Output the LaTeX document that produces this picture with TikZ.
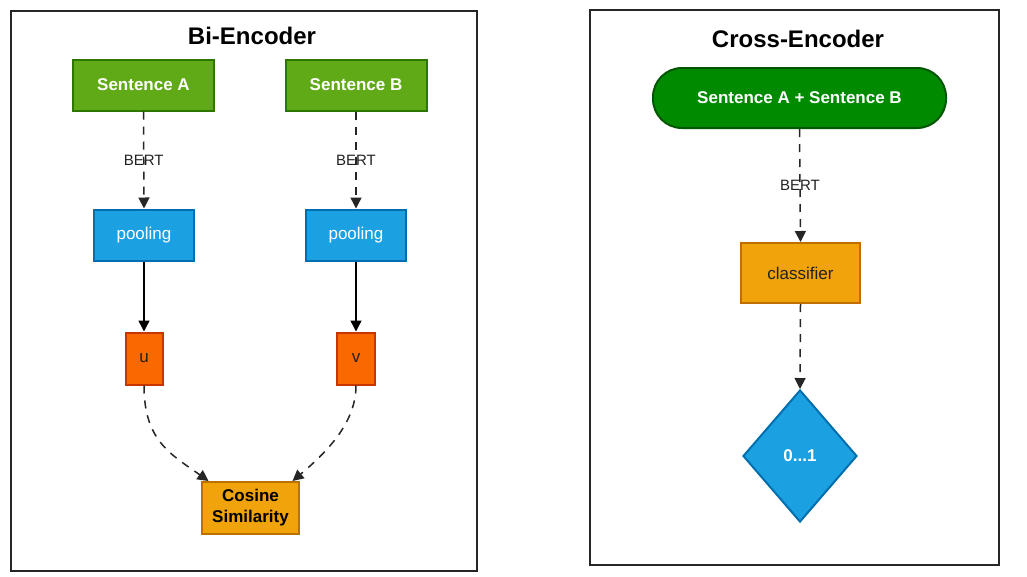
\documentclass[tikz,border=0pt]{standalone}
\usepackage{fontspec}
\setmainfont{Liberation Sans}
\usetikzlibrary{shapes.geometric,arrows.meta}
\definecolor{gfill}{HTML}{60A917}\definecolor{gline}{HTML}{2D7600}
\definecolor{bfill}{HTML}{1BA1E2}\definecolor{bline}{HTML}{006EAF}
\definecolor{ofill}{HTML}{FA6800}\definecolor{oline}{HTML}{C73500}
\definecolor{yfill}{HTML}{F0A30A}\definecolor{yline}{HTML}{BD7000}
\definecolor{dgfill}{HTML}{008A00}\definecolor{dgline}{HTML}{005700}
\definecolor{txt}{HTML}{222222}
\tikzset{
  frame/.style={draw=black!85,line width=2.2pt,rectangle,inner sep=0pt},
  title/.style={font=\fontsize{24}{28}\selectfont\bfseries,text=black,anchor=base},
  box/.style={rectangle,line width=2pt,inner sep=0pt,font=\fontsize{17}{21}\selectfont},
  greenbox/.style={box,fill=gfill,draw=gline,text=white,font=\fontsize{17}{21}\selectfont\bfseries},
  bluebox/.style={box,fill=bfill,draw=bline,text=white},
  orangebox/.style={box,fill=ofill,draw=oline,text=txt},
  yellowbox/.style={box,fill=yfill,draw=yline,text=txt},
  lbl/.style={font=\fontsize{15}{18}\selectfont,text=txt,inner sep=1pt},
  dashedarrow/.style={draw=black!85,line width=1.5pt,dash pattern=on 8pt off 7pt,-{Triangle[length=11pt,width=11pt]}},
  solidarrow/.style={draw=black,line width=1.5pt,-{Triangle[length=11pt,width=11pt]}}
}
\begin{document}
\begin{tikzpicture}[x=1pt,y=-1pt]
\useasboundingbox (0,0) rectangle (1027,576);
\fill[white] (0,0) rectangle (1027,576);
% frames
\node[frame,minimum width=466pt,minimum height=560pt] (frameL) at (244,291) {};
\node[frame,minimum width=409pt,minimum height=555pt] (frameR) at (794.5,287.5) {};
\node[title] (titleL) at (252,44) {Bi-Encoder};
\node[title] (titleR) at (798,47) {Cross-Encoder};
% Bi-encoder
\node[greenbox,minimum width=141pt,minimum height=51pt] (sa) at (143.5,85) {Sentence A};
\node[greenbox,minimum width=141pt,minimum height=51pt] (sb) at (356,85) {Sentence B};
\node[bluebox,minimum width=100pt,minimum height=51pt] (pa) at (144,235) {pooling};
\node[bluebox,minimum width=100pt,minimum height=51pt] (pb) at (356,235) {pooling};
\node[orangebox,minimum width=37pt,minimum height=52pt] (u) at (144,358.5) {u};
\node[orangebox,minimum width=38pt,minimum height=52pt] (v) at (356,358.5) {v};
\node[yellowbox,minimum width=97pt,minimum height=52pt,align=center,font=\fontsize{17}{21}\selectfont\bfseries,text=black] (cs) at (250.5,508) {Cosine\\Similarity};
\draw[dashedarrow] (sa.south) -- node[lbl] {BERT} (pa.north);
\draw[dashedarrow] (sb.south) -- node[lbl] {BERT} (pb.north);
\draw[solidarrow] (pa.south) -- (u.north);
\draw[solidarrow] (pb.south) -- (v.north);
\coordinate (csl) at ([xshift=-42pt]cs.north);
\coordinate (csr) at ([xshift=42pt]cs.north);
\draw[dashedarrow] (u.south) .. controls ([yshift=-55pt]u.south) and ([xshift=-38pt,yshift=27pt]csl) .. (csl);
\draw[dashedarrow] (v.south) .. controls ([yshift=-35pt]v.south) and ([xshift=38pt,yshift=32pt]csr) .. (csr);
% Cross-encoder
\node[box,fill=dgfill,draw=dgline,text=white,font=\fontsize{17}{21}\selectfont\bfseries,rounded corners=29pt,minimum width=293pt,minimum height=60pt] (sab) at (799.5,98) {Sentence A + Sentence B};
\node[yellowbox,minimum width=119pt,minimum height=60pt] (cl) at (800.5,273) {classifier};
\node[diamond,fill=bfill,draw=bline,line width=2pt,inner sep=0pt,minimum width=114pt,minimum height=132pt,text=white,font=\fontsize{17}{21}\selectfont\bfseries] (out) at (800,456) {0...1};
\draw[dashedarrow] (sab.south) -- node[lbl] {BERT} (cl.north);
\draw[dashedarrow] (cl.south) -- (out.north);
\end{tikzpicture}
\end{document}
